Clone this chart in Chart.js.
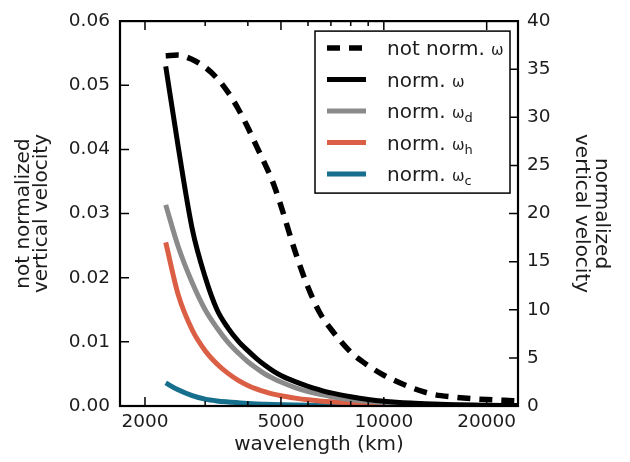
<!DOCTYPE html>
<html>
<head>
<meta charset="utf-8">
<script src="https://cdn.jsdelivr.net/npm/chart.js@4.4.1/dist/chart.umd.min.js"></script>
<style>
  body { margin: 0; background: #fff; }
  #wrap { width: 630px; height: 462px; }
</style>
</head>
<body>
<div id="wrap"><canvas id="myChart" width="630" height="462"></canvas></div>
<script>
// wavelength (km), shared x values of every curve
const wavelength = [2300, 2500, 2750, 3000, 3250, 3500, 3750, 4000, 4250, 4500, 4750, 5000, 5500,
                    6000, 6500, 7000, 8000, 9000, 10000, 12000, 14000, 16000, 18000, 20000, 22500, 25000];

// left axis: not normalized vertical velocity
const notNormW = [0.0546, 0.0547, 0.0540, 0.0528, 0.0511, 0.0489, 0.0463, 0.0434, 0.0404, 0.0376, 0.0347, 0.0312, 0.0241,
                  0.0185, 0.0145, 0.0120, 0.0084, 0.0063, 0.0048, 0.0029, 0.0018, 0.0014, 0.00115, 0.0010, 0.00088, 0.00078];

// right axis: normalized vertical velocity
const normW  = [35.3, 27.0, 18.4, 13.4, 10.0, 8.1, 6.75, 5.75, 4.9, 4.2, 3.62, 3.17, 2.53,
                2.05, 1.67, 1.36, 0.96, 0.68, 0.50, 0.30, 0.20, 0.14, 0.10, 0.08, 0.06, 0.045];
const normWd = [20.9, 16.6, 12.8, 10.0, 8.1, 6.6, 5.5, 4.6, 3.9, 3.3, 2.86, 2.49, 1.91,
                1.5, 1.21, 0.99, 0.68, 0.49, 0.37, 0.22, 0.147, 0.10, 0.073, 0.055, 0.04, 0.03];
const normWh = [17.0, 11.6, 7.9, 5.75, 4.37, 3.39, 2.66, 2.14, 1.76, 1.46, 1.23, 1.06, 0.82,
                0.64, 0.52, 0.435, 0.31, 0.23, 0.176, 0.11, 0.075, 0.053, 0.04, 0.03, 0.022, 0.017];
const normWc = [2.4, 1.68, 1.08, 0.72, 0.53, 0.42, 0.34, 0.27, 0.22, 0.185, 0.155, 0.13, 0.096,
                0.072, 0.055, 0.043, 0.028, 0.019, 0.014, 0.008, 0.005, 0.003, 0.002, 0.0015, 0.001, 0.001];

// ticks
const xTickValues = [2000, 3000, 4000, 5000, 6000, 7000, 8000, 9000, 10000, 20000];
const xTickLabels = [2000, 5000, 10000, 20000];

// legend text: name + omega + subscript
const seriesNames = ['not norm.', 'norm.', 'norm.', 'norm.', 'norm.'];
const seriesSubs  = ['', '', 'd', 'h', 'c'];

const txt = '#1c1c1c';
Chart.defaults.font.family = 'DejaVu Sans';
Chart.defaults.font.size = 18.5;
Chart.defaults.color = txt;

function pairs(ys) {
    return wavelength.map((w, i) => ({x: w, y: ys[i]}));
}

// matplotlib-like frame, inward ticks and the legend box
const frameAndTicks = {
    id: 'frameAndTicks',
    afterDatasetsDraw(chart) {
        const ctx = chart.ctx;
        const a = chart.chartArea;
        const s = chart.scales;
        ctx.save();
        ctx.strokeStyle = '#000';
        ctx.lineWidth = 1.5;
        ctx.beginPath();
        s.x.ticks.forEach(t => {
            const px = s.x.getPixelForValue(t.value);
            const len = xTickLabels.includes(t.value) ? 9 : 5;
            ctx.moveTo(px, a.bottom); ctx.lineTo(px, a.bottom - len);
            ctx.moveTo(px, a.top); ctx.lineTo(px, a.top + len);
        });
        s.y.ticks.forEach(t => {
            const py = s.y.getPixelForValue(t.value);
            ctx.moveTo(a.left, py); ctx.lineTo(a.left + 9, py);
        });
        s.y1.ticks.forEach(t => {
            const py = s.y1.getPixelForValue(t.value);
            ctx.moveTo(a.right, py); ctx.lineTo(a.right - 9, py);
        });
        ctx.stroke();
        ctx.lineWidth = 2.2;
        ctx.strokeRect(a.left, a.top, a.right - a.left, a.bottom - a.top);

        // legend
        const bx = a.right - 203, by = a.top + 10, bw = 195, bh = 162;
        ctx.fillStyle = '#fff';
        ctx.fillRect(bx, by, bw, bh);
        ctx.lineWidth = 1.5;
        ctx.strokeRect(bx, by, bw, bh);
        chart.data.datasets.forEach((ds, i) => {
            const y = by + 17 + i * 31.5;
            ctx.strokeStyle = ds.borderColor;
            ctx.lineWidth = ds.borderWidth;
            ctx.setLineDash(ds.borderDash || []);
            ctx.beginPath();
            ctx.moveTo(bx + 12, y); ctx.lineTo(bx + 51, y);
            ctx.stroke();
            ctx.setLineDash([]);
            ctx.fillStyle = txt;
            ctx.textBaseline = 'alphabetic';
            ctx.font = '20px "DejaVu Sans"';
            let tx = bx + 72;
            const base = y + 7;
            ctx.fillText(seriesNames[i], tx, base);
            tx += ctx.measureText(seriesNames[i] + ' ').width;
            ctx.font = '15px "DejaVu Sans"';
            ctx.fillText('ω', tx, base);
            tx += ctx.measureText('ω').width;
            if (seriesSubs[i]) {
                ctx.font = '13px "DejaVu Sans"';
                ctx.fillText(seriesSubs[i], tx, base + 4);
            }
        });
        ctx.restore();
    }
};

const ctx = document.getElementById('myChart');
const chart = new Chart(ctx, {
    type: 'line',
    data: {
        datasets: [
            {label: 'not norm. ω', data: pairs(notNormW), yAxisID: 'y', borderColor: '#000',
             borderWidth: 5.5, borderDash: [13, 9]},
            {label: 'norm. ω', data: pairs(normW), yAxisID: 'y1', borderColor: '#000', borderWidth: 5},
            {label: 'norm. ωd', data: pairs(normWd), yAxisID: 'y1', borderColor: '#8a8a8a', borderWidth: 5},
            {label: 'norm. ωh', data: pairs(normWh), yAxisID: 'y1', borderColor: '#db5f45', borderWidth: 5},
            {label: 'norm. ωc', data: pairs(normWc), yAxisID: 'y1', borderColor: '#156f8d', borderWidth: 5}
        ]
    },
    options: {
        responsive: false,
        animation: false,
        events: [],
        elements: {
            point: {radius: 0},
            line: {cubicInterpolationMode: 'monotone', borderCapStyle: 'butt'}
        },
        layout: {padding: {top: 20, left: 0, right: 0, bottom: 0}},
        plugins: {legend: {display: false}, tooltip: {enabled: false}},
        scales: {
            x: {
                type: 'logarithmic',
                min: 1690,
                max: 24700,
                afterBuildTicks: sc => { sc.ticks = xTickValues.map(v => ({value: v})); },
                afterFit: sc => { sc.height = 56; },
                grid: {display: false, drawTicks: false},
                border: {display: false},
                ticks: {
                    autoSkip: false, maxRotation: 0, padding: 5,
                    callback: v => xTickLabels.includes(v) ? String(v) : ''
                },
                title: {display: true, text: 'wavelength (km)', font: {size: 20},
                        padding: {top: 0, bottom: 5}}
            },
            y: {
                position: 'left',
                min: 0, max: 0.06,
                afterFit: sc => { sc.width = 120; },
                grid: {display: false, drawTicks: false},
                border: {display: false},
                ticks: {stepSize: 0.01, padding: 10, callback: v => v.toFixed(2)},
                title: {display: true, text: ['not normalized', 'vertical velocity'],
                        font: {size: 20, lineHeight: 0.9}, padding: {top: 15, bottom: 0}}
            },
            y1: {
                position: 'right',
                min: 0, max: 40,
                afterFit: sc => { sc.width = 112; },
                grid: {display: false, drawTicks: false},
                border: {display: false},
                ticks: {stepSize: 5, padding: 9},
                title: {display: true, text: ['normalized', 'vertical velocity'],
                        font: {size: 20, lineHeight: 1.0}, padding: {top: 19, bottom: 0}}
            }
        }
    },
    plugins: [frameAndTicks]
});
</script>
</body>
</html>
